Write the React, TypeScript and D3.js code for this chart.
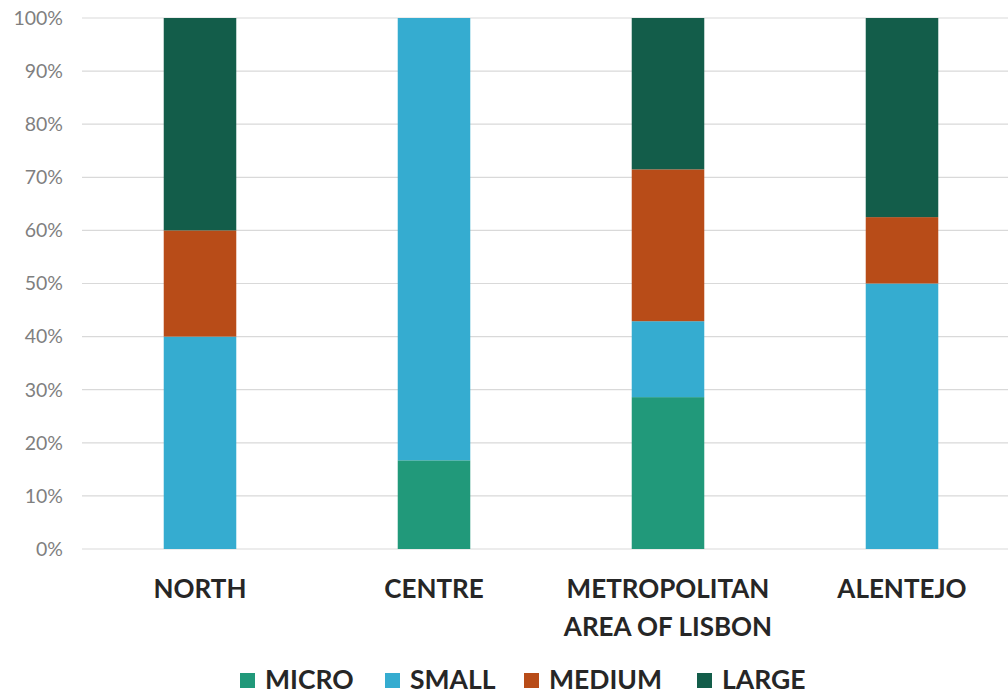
import React from "react";
import * as d3 from "d3";

const categories = ["NORTH", "CENTRE", "METROPOLITAN\nAREA OF LISBON", "ALENTEJO"];
const seriesNames = ["MICRO", "SMALL", "MEDIUM", "LARGE"];
const micro = [0, 16.7, 28.6, 0];
const small = [40, 83.3, 14.3, 50];
const medium = [20, 0, 28.6, 12.5];
const large = [40, 0, 28.5, 37.5];
const colors = ["#21997a", "#35acd0", "#b84c18", "#135d4a"];
const yTicks = [0, 10, 20, 30, 40, 50, 60, 70, 80, 90, 100];

const W = 1008;
const H = 695;

export default function App() {
  const x = d3.scaleBand<string>().domain(categories).range([83, 1019]).paddingInner(0.69).paddingOuter(0.345);
  const y = d3.scaleLinear().domain([0, 100]).range([549, 18]);
  const rows = categories.map((c, i) => ({
    cat: c,
    MICRO: micro[i],
    SMALL: small[i],
    MEDIUM: medium[i],
    LARGE: large[i],
  }));
  const stack = d3.stack<any>().keys(seriesNames)(rows);
  const font = "Lato, 'Open Sans', sans-serif";
  const legendX = [240, 385, 524, 697];
  return (
    <svg width={W} height={H} style={{ position: "absolute", left: 0, top: 0, background: "#fff" }}>
      {yTicks.map((t) => (
        <g key={t}>
          <line x1={82} x2={W} y1={y(t)} y2={y(t)} stroke="#d9d9d9" strokeWidth={1.2} />
          <text x={63} y={y(t)} dy="0.35em" textAnchor="end" fontFamily={font} fontSize={19.5} fill="#7f7f7f">
            {t}%
          </text>
        </g>
      ))}
      {stack.map((s, si) =>
        s.map((d, i) =>
          d[1] - d[0] > 0 ? (
            <rect
              key={si + "-" + i}
              x={x(categories[i])!}
              width={x.bandwidth()}
              y={y(d[1])}
              height={y(d[0]) - y(d[1])}
              fill={colors[si]}
            />
          ) : null
        )
      )}
      {categories.map((c) => {
        const lines = c.split("\n");
        return (
          <text key={c} textAnchor="middle" fontFamily={font} fontWeight="bold" fontSize={26} fill="#262626">
            {lines.map((l, li) => (
              <tspan key={li} x={x(c)! + x.bandwidth() / 2} y={598 + li * 38}>
                {l}
              </tspan>
            ))}
          </text>
        );
      })}
      {seriesNames.map((n, i) => (
        <g key={n}>
          <rect x={legendX[i]} y={673} width={15} height={15} fill={colors[i]} />
          <text x={legendX[i] + 25} y={689} fontFamily={font} fontWeight="bold" fontSize={26.5} fill="#262626">
            {n}
          </text>
        </g>
      ))}
    </svg>
  );
}
